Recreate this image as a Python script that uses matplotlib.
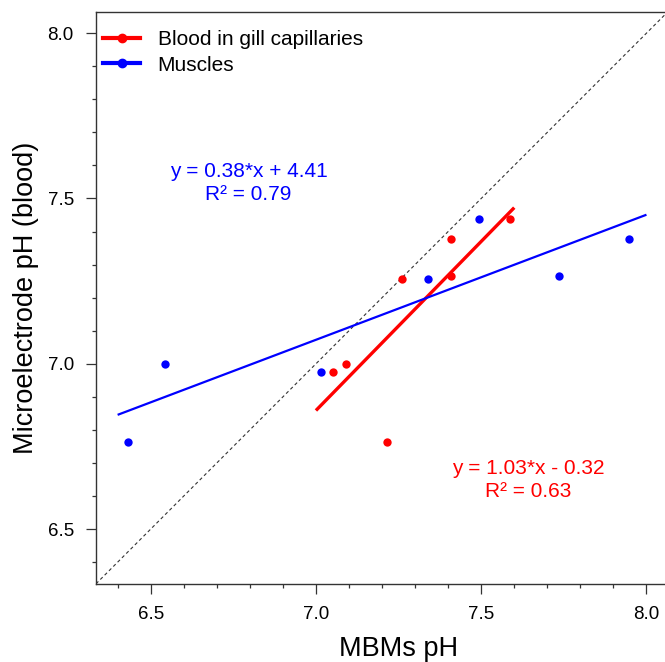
import numpy as np
import matplotlib
matplotlib.use('Agg')
import matplotlib.pyplot as plt
from matplotlib.lines import Line2D
from matplotlib.ticker import MultipleLocator

plt.rcParams['font.family'] = ['Liberation Sans', 'DejaVu Sans']

# data
gill_x = [7.051, 7.090, 7.260, 7.408, 7.408, 7.586, 7.215]
gill_y = [6.974, 7.000, 7.257, 7.377, 7.266, 7.439, 6.762]
muscle_x = [6.431, 6.543, 7.015, 7.338, 7.494, 7.736, 7.947]
muscle_y = [6.764, 7.000, 6.974, 7.257, 7.439, 7.266, 7.377]

gill_fit_range = [7.0, 7.6]
muscle_fit_range = [6.4, 8.0]

series_labels = ['Blood in gill capillaries', 'Muscles']
gill_eq = 'y = 1.03*x - 0.32\nR\u00b2 = 0.63'
muscle_eq = 'y = 0.38*x + 4.41\nR\u00b2 = 0.79'

red = '#ff0000'
blue = '#0000ff'

fig = plt.figure(figsize=(6.65, 6.62), dpi=100)
ax = fig.add_axes([96 / 665, 78 / 662, 605 / 665, 572 / 662])

ax.axline((6.5, 6.5), slope=1, color='#333333', lw=0.8, ls=(0, (3, 2.5)))

# regression lines
kg = np.polyfit(gill_x, gill_y, 1)
km = np.polyfit(muscle_x, muscle_y, 1)
xr = np.array(gill_fit_range)
ax.plot(xr, np.polyval(kg, xr), color=red, lw=2.4, solid_capstyle='butt')
xm = np.array(muscle_fit_range)
ax.plot(xm, np.polyval(km, xm), color=blue, lw=1.6, solid_capstyle='butt')

ax.plot(gill_x, gill_y, 'o', color=red, ms=6, mec='none')
ax.plot(muscle_x, muscle_y, 'o', color=blue, ms=6, mec='none')

ax.text(6.796, 7.546, muscle_eq, color=blue, fontsize=15, ha='center', va='center', linespacing=1.25)
ax.text(7.643, 6.648, gill_eq, color=red, fontsize=15, ha='center', va='center', linespacing=1.25)

handles = [Line2D([], [], color=red, lw=3, marker='o', ms=6),
           Line2D([], [], color=blue, lw=3, marker='o', ms=6)]
ax.legend(handles, series_labels, loc='upper left', bbox_to_anchor=(-0.005, 0.986),
          frameon=False, fontsize=15, handlelength=1.75, handletextpad=0.85,
          labelspacing=0.3, borderaxespad=0.0, borderpad=0.5, numpoints=1)

ax.set_xlim(6.3346, 8.165)
ax.set_ylim(6.334, 8.064)
ax.xaxis.set_major_locator(MultipleLocator(0.5))
ax.yaxis.set_major_locator(MultipleLocator(0.5))
ax.xaxis.set_minor_locator(MultipleLocator(0.1))
ax.yaxis.set_minor_locator(MultipleLocator(0.1))
ax.xaxis.set_major_formatter(lambda v, p: f'{v:.1f}')
ax.yaxis.set_major_formatter(lambda v, p: f'{v:.1f}')
ax.tick_params(which='major', direction='out', length=7, width=0.9, pad=9, labelsize=13.5, color='#333333')
ax.tick_params(which='minor', direction='out', length=3, width=0.9, color='#333333')
for s in ax.spines.values():
    s.set_linewidth(1.0)
    s.set_color('#333333')

ax.set_xlabel('MBMs pH', fontsize=19.5, labelpad=9)
ax.set_ylabel('Microelectrode pH (blood)', fontsize=19.5, labelpad=6)

fig.savefig('out.png', dpi=100)
